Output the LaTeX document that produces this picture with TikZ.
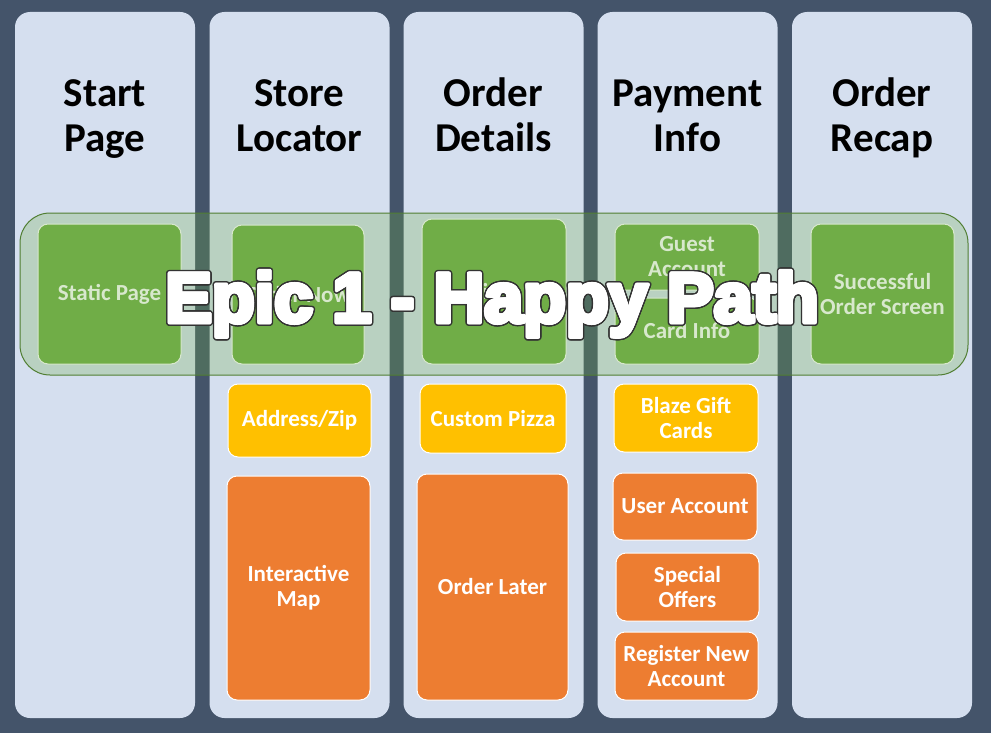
\documentclass[tikz,border=0pt]{standalone}
\usepackage{fontspec}
\setmainfont{Carlito}
\newfontfamily\epicfont[FakeBold=3]{Liberation Sans Bold}
\definecolor{bgc}{HTML}{44546A}
\definecolor{colc}{HTML}{D5DFEF}
\definecolor{grn}{HTML}{70AD47}
\definecolor{yel}{HTML}{FFC000}
\definecolor{org}{HTML}{ED7D31}
\definecolor{banddraw}{HTML}{507E32}
\tikzset{
  lane/.style={fill=colc, rounded corners=15pt, minimum width=180pt, minimum height=706pt, inner sep=0pt, outer sep=0pt},
  head/.style={font=\bfseries\fontsize{41}{45}\selectfont, align=center, text=black, inner sep=0pt},
  card/.style={draw=white, line width=1pt, rounded corners=10pt, inner sep=0pt, outer sep=0pt,
    text=white, font=\bfseries\fontsize{23}{25}\selectfont, align=center},
  gcard/.style={card, fill=grn},
  ycard/.style={card, fill=yel},
  ocard/.style={card, fill=org},
  bandbox/.style={draw=banddraw, line width=1pt, fill=grn, fill opacity=0.27, rounded corners=30pt,
    minimum width=948pt, minimum height=162pt, inner sep=0pt},
  epic/.style={font=\epicfont\fontsize{70}{80}\selectfont, inner sep=0pt, anchor=base}
}
\begin{document}
\begin{tikzpicture}[x=1pt,y=-1pt]
\fill[bgc] (0,0) rectangle (991,733);
\useasboundingbox (0,0) rectangle (991,733);
% lanes
\node[lane] (col1) at (105,365) {};
\node[lane] (col2) at (299.5,365) {};
\node[lane] (col3) at (493.5,365) {};
\node[lane] (col4) at (687.5,365) {};
\node[lane] (col5) at (882,365) {};
% headers (base = last line)
\node[head, anchor=base] (h1) at (105,152) {Start\\Page};
\node[head, anchor=base] (h2) at (299.5,152) {Store\\Locator};
\node[head, anchor=base] (h3) at (493.5,152) {Order\\Details};
\node[head, anchor=base] (h4) at (687.5,152) {Payment\\Info};
\node[head, anchor=base] (h5) at (882,152) {Order\\Recap};
% green cards
\node[gcard, minimum width=143pt, minimum height=140pt] (static) at (109.5,294) {Static Page};
\node[gcard, minimum width=132pt, minimum height=139pt] (ordernow) at (298,294.5) {Order Now};
\node[gcard, minimum width=144pt, minimum height=145pt] (pizza) at (494,291.5) {Pizza};
\node[gcard, minimum width=144pt, minimum height=66pt] (guest) at (687,257) {Guest\\Account};
\node[gcard, minimum width=144pt, minimum height=66pt] (card) at (687,331) {Card Info};
\node[gcard, minimum width=143pt, minimum height=140pt] (success) at (882.5,294) {Successful\\Order Screen};
% yellow cards
\node[ycard, minimum width=143pt, minimum height=73pt] (addr) at (299.5,420.5) {Address/Zip};
\node[ycard, minimum width=146pt, minimum height=69pt] (custom) at (493,418.5) {Custom Pizza};
\node[ycard, minimum width=144pt, minimum height=68pt] (blaze) at (686,418) {Blaze Gift\\Cards};
% orange cards
\node[ocard, minimum width=143pt, minimum height=224pt] (map) at (298.5,588) {Interactive\\Map};
\node[ocard, minimum width=151pt, minimum height=226pt] (later) at (492.5,587) {Order Later};
\node[ocard, minimum width=144pt, minimum height=67pt] (user) at (685,506.5) {User Account};
\node[ocard, minimum width=143pt, minimum height=68pt] (offers) at (687.5,587) {Special\\Offers};
\node[ocard, minimum width=143pt, minimum height=68pt] (register) at (686.5,666) {Register New\\Account};
% band
\node[bandbox] (band) at (494,294) {};
% epic title with outline (dark rim, thickened white face)
\foreach \i in {1,...,24}{
  \node[epic, text=black!80] (epico\i) at ([shift={(\i*15:2.8)}]492,322) {Epic 1 - Happy Path};
}
\foreach \i in {1,...,12}{
  \node[epic, text=white] (epicw\i) at ([shift={(\i*30:1.3)}]492,322) {Epic 1 - Happy Path};
}
\node[epic, text=white] (epic) at (492,322) {Epic 1 - Happy Path};
\end{tikzpicture}
\end{document}
